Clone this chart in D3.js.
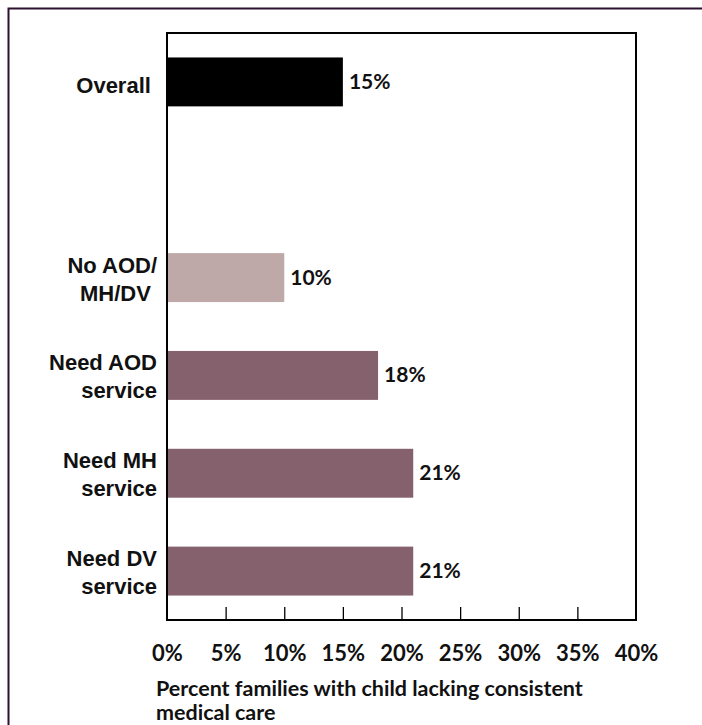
<!DOCTYPE html>
<html>
<head>
<meta charset="utf-8">
<script src="https://cdn.jsdelivr.net/npm/d3@7"></script>
<style>
  html, body { margin: 0; padding: 0; background: #fff; }
  svg { display: block; }
  .cat { font-family: "Liberation Sans", Arial, sans-serif; font-weight: bold; font-size: 22px; fill: #111; white-space: pre; }
  .val, .tick text, .xtitle { font-family: Lato, "Open Sans", sans-serif; font-weight: bold; fill: #111; }
</style>
</head>
<body>
<script>
// ---- data ----
const categories = ["Overall", "", "No AOD/MH/DV", "Need AOD service", "Need MH service", "Need DV service"];
const labelLines = [["Overall "], [], ["No AOD/", "MH/DV "], ["Need AOD", "service"], ["Need MH", "service"], ["Need DV", "service"]];
const values = [15, null, 10, 18, 21, 21];
const valueLabels = ["15%", "", "10%", "18%", "21%", "21%"];
const barColors = ["#000000", "none", "#bfa9a8", "#84616d", "#84616d", "#84616d"];
const tickValues = [0, 5, 10, 15, 20, 25, 30, 35, 40];
const tickLabels = ["0%", "5%", "10%", "15%", "20%", "25%", "30%", "35%", "40%"];
const axisTitle = ["Percent families with child lacking consistent", "medical care"];

const W = 702, H = 725;
const plot = { left: 167, right: 636, top: 33, bottom: 620 };

const svg = d3.select("body").append("svg").attr("width", W).attr("height", H);

// outer frame (top and left)
svg.append("path")
  .attr("d", `M8.5,${H} L8.5,8.5 L${W},8.5`)
  .attr("fill", "none").attr("stroke", "#2e1030").attr("stroke-width", 2);

const x = d3.scaleLinear().domain([0, 40]).range([plot.left, plot.right]);
const y = d3.scaleBand().domain(categories).range([plot.top, plot.bottom])
  .paddingInner(0.5).paddingOuter(0.25);

const rows = categories.map((c, i) => ({ c, i, v: values[i], lines: labelLines[i], lab: valueLabels[i], col: barColors[i] }));
const barRows = rows.filter(d => d.v != null);

// bars
svg.append("g").selectAll("rect").data(barRows).join("rect")
  .attr("x", x(0))
  .attr("y", d => y(d.c))
  .attr("width", d => x(d.v) - x(0))
  .attr("height", y.bandwidth())
  .attr("fill", d => d.col);

// x axis ticks (inward) + labels
const xAxis = d3.axisBottom(x)
  .tickValues(tickValues)
  .tickFormat((d, i) => tickLabels[i])
  .tickSize(-13)
  .tickSizeOuter(0)
  .tickPadding(25);
const gx = svg.append("g").attr("transform", `translate(0,${plot.bottom})`).call(xAxis);
gx.select(".domain").remove();
gx.selectAll(".tick line").attr("stroke", "#000").attr("stroke-width", 1.3)
  .filter(d => d === 0 || d === 40).remove();
gx.selectAll(".tick text").attr("font-size", 22).attr("fill", "#111");

// plot frame
svg.append("rect")
  .attr("x", plot.left).attr("y", plot.top)
  .attr("width", plot.right - plot.left).attr("height", plot.bottom - plot.top)
  .attr("fill", "none").attr("stroke", "#000").attr("stroke-width", 2);

// value labels
svg.append("g").selectAll("text").data(barRows).join("text")
  .attr("class", "val")
  .attr("x", d => x(d.v) + 6)
  .attr("y", d => y(d.c) + y.bandwidth() / 2 + 7)
  .attr("font-size", 21)
  .text(d => d.lab);

// category labels
const cg = svg.append("g").selectAll("text").data(rows.filter(d => d.lines.length)).join("text")
  .attr("class", "cat")
  .attr("text-anchor", "end")
  .attr("x", 157)
  .attr("y", d => y(d.c) + y.bandwidth() / 2 + (d.lines.length === 1 ? 11 : -5));
cg.selectAll("tspan").data(d => d.lines).join("tspan")
  .attr("x", 157)
  .attr("dy", (d, i) => i === 0 ? 0 : 28)
  .text(d => d);

// axis title
svg.append("text").attr("class", "xtitle")
  .attr("x", 156).attr("y", 696)
  .attr("font-size", 21.5)
  .selectAll("tspan").data(axisTitle).join("tspan")
  .attr("x", 156).attr("dy", (d, i) => i === 0 ? 0 : 24)
  .text(d => d);
</script>
</body>
</html>
